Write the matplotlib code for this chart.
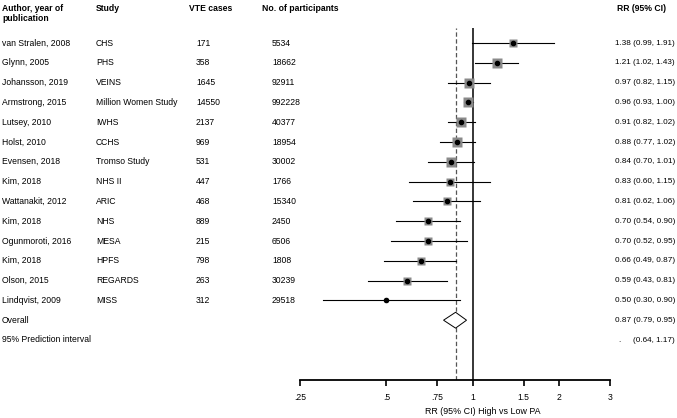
import numpy as np
import matplotlib
matplotlib.use("Agg")
import matplotlib.pyplot as plt
from matplotlib.transforms import blended_transform_factory

plt.rcParams['font.family'] = ['Liberation Sans', 'DejaVu Sans']

authors = ["van Stralen, 2008", "Glynn, 2005", "Johansson, 2019", "Armstrong, 2015",
           "Lutsey, 2010", "Holst, 2010", "Evensen, 2018", "Kim, 2018",
           "Wattanakit, 2012", "Kim, 2018", "Ogunmoroti, 2016", "Kim, 2018",
           "Olson, 2015", "Lindqvist, 2009"]
studies = ["CHS", "PHS", "VEINS", "Million Women Study", "IWHS", "CCHS", "Tromso Study",
           "NHS II", "ARIC", "NHS", "MESA", "HPFS", "REGARDS", "MISS"]
cases = [171, 358, 1645, 14550, 2137, 969, 531, 447, 468, 889, 215, 798, 263, 312]
participants = [5534, 18662, 92911, 992228, 40377, 18954, 30002, 1766, 15340, 2450,
                6506, 1808, 30239, 29518]
rr = [1.38, 1.21, 0.97, 0.96, 0.91, 0.88, 0.84, 0.83, 0.81, 0.70, 0.70, 0.66, 0.59, 0.50]
lo = [0.99, 1.02, 0.82, 0.93, 0.82, 0.77, 0.70, 0.60, 0.62, 0.54, 0.52, 0.49, 0.43, 0.30]
hi = [1.91, 1.43, 1.15, 1.00, 1.02, 1.02, 1.01, 1.15, 1.06, 0.90, 0.95, 0.87, 0.81, 0.90]
weights = [5, 9, 7, 10, 9, 9, 7.5, 5.5, 5.5, 6, 6, 6, 5.5, 1.5]  # estimated % weight

overall = (0.87, 0.79, 0.95)
pred_int = (0.64, 1.17)

xticks = [0.25, 0.5, 0.75, 1, 1.5, 2, 3]
xticklabels = [".25", ".5", ".75", "1", "1.5", "2", "3"]

W, H = 677, 418
fig = plt.figure(figsize=(W / 100, H / 100), dpi=100)

row_top, row_step = 43, 19.8
ax_top, ax_bot = 28, 380
ax = fig.add_axes([300 / W, 1 - ax_bot / H, 310 / W, (ax_bot - ax_top) / H])
ax.set_xscale('log')
ax.set_xlim(0.25, 3)
ax.set_ylim((ax_bot - row_top) / row_step, (ax_top - row_top) / row_step)

for s in ['top', 'right', 'left']:
    ax.spines[s].set_visible(False)
ax.spines['bottom'].set_linewidth(1.3)
ax.set_yticks([])
ax.set_xticks(xticks)
ax.set_xticklabels(xticklabels)
ax.xaxis.set_minor_locator(matplotlib.ticker.NullLocator())
ax.tick_params(axis='x', direction='out', length=4, width=1.2, labelsize=6.2, pad=5)

ax.axvline(1, color='black', lw=1.1)
ax.axvline(overall[0], color='#555555', lw=0.9, ls=(0, (3.5, 2)))

n = len(rr)
ys = np.arange(n)
for i in range(n):
    ax.plot([lo[i], hi[i]], [ys[i], ys[i]], color='black', lw=0.8, zorder=2)
    ax.plot(rr[i], ys[i], marker='s', ms=2.5 * np.sqrt(weights[i]), color='#8a8a8a',
            mec='none', zorder=3)
    ax.plot(rr[i], ys[i], marker='o', ms=3.0, color='black', zorder=4)

# overall diamond
yo = n
m, l, h = overall
ax.fill([l, m, h, m, l], [yo, yo - 0.4, yo, yo + 0.4, yo], facecolor='white',
        edgecolor='black', lw=0.7, zorder=5)

tr = blended_transform_factory(fig.transFigure, ax.transData)
fs = 6.2
fr = 5.9
rx = 675 / W
cols = [2, 96, 196, 272]
for i in range(n):
    ax.text(cols[0] / W, ys[i], authors[i], transform=tr, fontsize=fs, va='center', clip_on=False)
    ax.text(cols[1] / W, ys[i], studies[i], transform=tr, fontsize=fs, va='center', clip_on=False)
    ax.text(cols[2] / W, ys[i], str(cases[i]), transform=tr, fontsize=fs, va='center', clip_on=False)
    ax.text(cols[3] / W, ys[i], str(participants[i]), transform=tr, fontsize=fs, va='center', clip_on=False)
    ax.text(rx, ys[i], "%.2f (%.2f, %.2f)" % (rr[i], lo[i], hi[i]), transform=tr,
            fontsize=fr, va='center', ha='right', clip_on=False)

ax.text(cols[0] / W, n, "Overall", transform=tr, fontsize=fs, va='center', clip_on=False)
ax.text(rx, n, "%.2f (%.2f, %.2f)" % overall, transform=tr, fontsize=fr, va='center',
        ha='right', clip_on=False)
ax.text(cols[0] / W, n + 1, "95% Prediction interval", transform=tr, fontsize=fs, va='center', clip_on=False)
ax.text(618 / W, n + 1, ".", transform=tr, fontsize=fr, va='center', clip_on=False)
ax.text(rx, n + 1, "(%.2f, %.2f)" % pred_int, transform=tr, fontsize=fr, va='center',
        ha='right', clip_on=False)

# headers
hy = 1 - 4 / H
fig.text(2 / W, hy, "Author, year of\npublication", fontsize=fs, weight='bold', va='top',
         linespacing=1.15)
fig.text(96 / W, hy, "Study", fontsize=fs, weight='bold', va='top')
fig.text(189 / W, hy, "VTE cases", fontsize=fs, weight='bold', va='top')
fig.text(262 / W, hy, "No. of participants", fontsize=fs, weight='bold', va='top')
fig.text(617 / W, hy, "RR (95% CI)", fontsize=fs, weight='bold', va='top')

fig.text(483 / W, 1 - 412 / H, "RR (95% CI) High vs Low PA", fontsize=6.4, ha='center', va='center')

fig.savefig("out.png", dpi=100)
